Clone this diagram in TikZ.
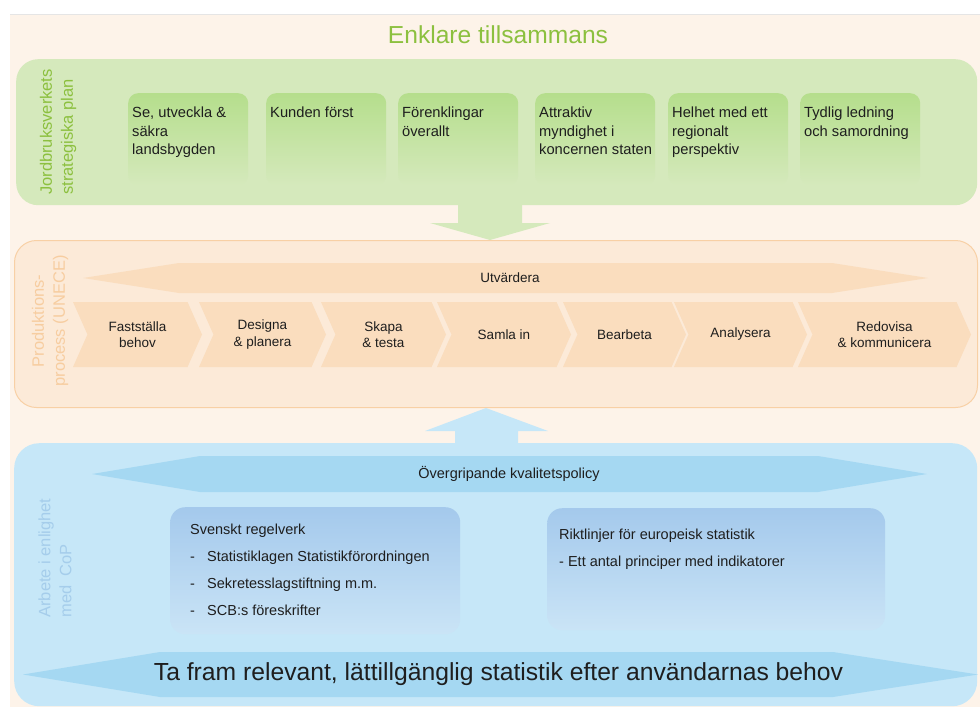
\documentclass[tikz,border=0pt]{standalone}
\usepackage{fontspec}
\setmainfont{Liberation Sans}
\usepackage{tikz}
\usetikzlibrary{positioning,shapes.symbols}
\definecolor{peach}{RGB}{253,243,233}
\definecolor{plangreen}{RGB}{213,233,188}
\definecolor{goalgreen}{RGB}{181,222,140}
\definecolor{titlegreen}{RGB}{140,192,63}
\definecolor{proclight}{RGB}{252,234,216}
\definecolor{procline}{RGB}{248,208,165}
\definecolor{stagefill}{RGB}{250,221,190}
\definecolor{proctext}{RGB}{247,205,160}
\definecolor{copblue}{RGB}{198,231,248}
\definecolor{bandblue}{RGB}{165,216,242}
\definecolor{ruletop}{RGB}{164,201,236}
\definecolor{rulebot}{RGB}{202,228,246}
\definecolor{coptext}{RGB}{165,205,235}
\definecolor{ink}{RGB}{30,30,30}
\tikzset{
    panel/.style={rectangle,rounded corners=22pt,anchor=north west,inner sep=0pt},
    goal/.style={rectangle,rounded corners=10pt,top color=goalgreen,bottom color=plangreen,anchor=north west,minimum width=120pt,minimum height=92pt,inner sep=0pt},
    goaltxt/.style={align=left,inner sep=0pt,text=ink,font=\fontsize{14.7}{18.3}\selectfont},
    stage/.style={signal,signal to=east,signal from=west,signal pointer angle=132,fill=stagefill,minimum height=65pt,inner sep=0pt,align=center,text=ink,font=\fontsize{13.5}{16.5}\selectfont},
    rulebox/.style={rectangle,rounded corners=15pt,top color=ruletop,bottom color=rulebot,anchor=north west,inner sep=0pt},
    ruletxt/.style={align=left,inner sep=0pt,text=ink,font=\fontsize{14.5}{27}\selectfont},
    side/.style={rotate=90,inner sep=0pt,font=\fontsize{16.5}{21}\selectfont},
}
\newcommand{\dash}{\makebox[17pt][l]{-}}

\begin{document}
\begin{tikzpicture}[x=1pt,y=-1pt]
\useasboundingbox (0,0) rectangle (980,707);
\fill[peach] (10,14) rectangle (980,707);
\draw[black!10] (10,14) -- (980,14);

\node[font=\fontsize{24.6}{28}\selectfont,text=titlegreen] (title) at (498,35) {Enklare tillsammans};

% strategic plan
\node[panel,fill=plangreen,minimum width=961pt,minimum height=146pt] (plan) at (16,59) {};
\node[side,align=left,text=titlegreen] (plantag) at (58,132) {Jordbruksverkets\\strategiska plan};

\node[goal] (se)   at (128,93) {};
\node[goal] (kund) at (266,93) {};
\node[goal] (enkl) at (398,93) {};
\node[goal] (attr) at (535,93) {};
\node[goal] (helh) at (668,93) {};
\node[goal] (ledn) at (800,93) {};
\node[goaltxt,below right=14pt and 4pt of se.north west]   (setxt)   {Se, utveckla \&\\säkra\\landsbygden};
\node[goaltxt,below right=14pt and 4pt of kund.north west] (kundtxt) {Kunden först};
\node[goaltxt,below right=14pt and 4pt of enkl.north west] (enkltxt) {Förenklingar\\överallt};
\node[goaltxt,below right=14pt and 4pt of attr.north west] (attrtxt) {Attraktiv\\myndighet i\\koncernen staten};
\node[goaltxt,below right=14pt and 4pt of helh.north west] (helhtxt) {Helhet med ett\\regionalt\\perspektiv};
\node[goaltxt,below right=14pt and 4pt of ledn.north west] (ledntxt) {Tydlig ledning\\och samordning};

% arrow down into the process
\fill[plangreen] (458,203) -- (458,223) -- (430,223) -- (490,240) -- (550,223) -- (522,223) -- (522,203) -- cycle;

% production process
\node[panel,fill=proclight,draw=procline,line width=1pt,minimum width=963pt,minimum height=167pt] (proc) at (14,240) {};
\node[side,align=center,text=proctext] (proctag) at (50,321) {Produktions-\\process (UNECE)};

\fill[stagefill] (83,278) -- (179,263) -- (832,263) -- (928,278) -- (832,293) -- (179,293) -- cycle;
\node[font=\fontsize{13.5}{16}\selectfont,text=ink] (eval) at (510,278) {Utvärdera};

\node[stage,minimum width=129pt] (s1) at (137.5,334.5) {Fastställa\\behov};
\node[stage,minimum width=127pt] (s2) at (262.5,334.5) {Designa\\\& planera};
\node[stage,minimum width=125pt] (s3) at (383.5,334.5) {Skapa\\\& testa};
\node[stage,minimum width=134pt] (s4) at (504,334.5)   {Samla in};
\node[stage,minimum width=123pt] (s5) at (624.5,334.5) {Bearbeta};
\node[stage,minimum width=133pt] (s6) at (740.5,334.5) {Analysera};
\node[stage,minimum width=173pt] (s7) at (884.5,334.5) {Redovisa\\\& kommunicera};

% arrow up from the code of practice
\fill[copblue] (455,445) -- (455,431) -- (425,431) -- (486,408) -- (548,431) -- (518,431) -- (518,445) -- cycle;

% code of practice
\node[panel,fill=copblue,rounded corners=25pt,minimum width=963pt,minimum height=263pt] (cop) at (14,443) {};
\node[side,align=left,text=coptext] (coptag) at (55,558) {Arbete i enlighet\\med\ \ CoP};

\fill[bandblue] (92,474) -- (200,456) -- (818,456) -- (927,474) -- (818,492) -- (200,492) -- cycle;
\node[font=\fontsize{14.5}{17}\selectfont,text=ink] (policy) at (509,474) {Övergripande kvalitetspolicy};

\node[rulebox,minimum width=290pt,minimum height=127pt] (svbox) at (170,507) {};
\node[ruletxt,below right=17pt and 20pt of svbox.north west] (svtxt) {Svenskt regelverk\\\dash Statistiklagen Statistikförordningen\\\dash Sekretesslagstiftning m.m.\\\dash SCB:s föreskrifter};
\node[rulebox,minimum width=338pt,minimum height=122pt] (eubox) at (547,508) {};
\node[ruletxt,below right=21pt and 12pt of eubox.north west] (eutxt) {Riktlinjer för europeisk statistik\\- Ett antal principer med indikatorer};

\fill[bandblue] (23,674.5) -- (160,652) -- (833,652) -- (978,674.5) -- (833,697) -- (160,697) -- cycle;
\node[font=\fontsize{24.7}{28}\selectfont,text=ink] (need) at (498.5,674) {Ta fram relevant, lättillgänglig statistik efter användarnas behov};
\end{tikzpicture}
\end{document}
